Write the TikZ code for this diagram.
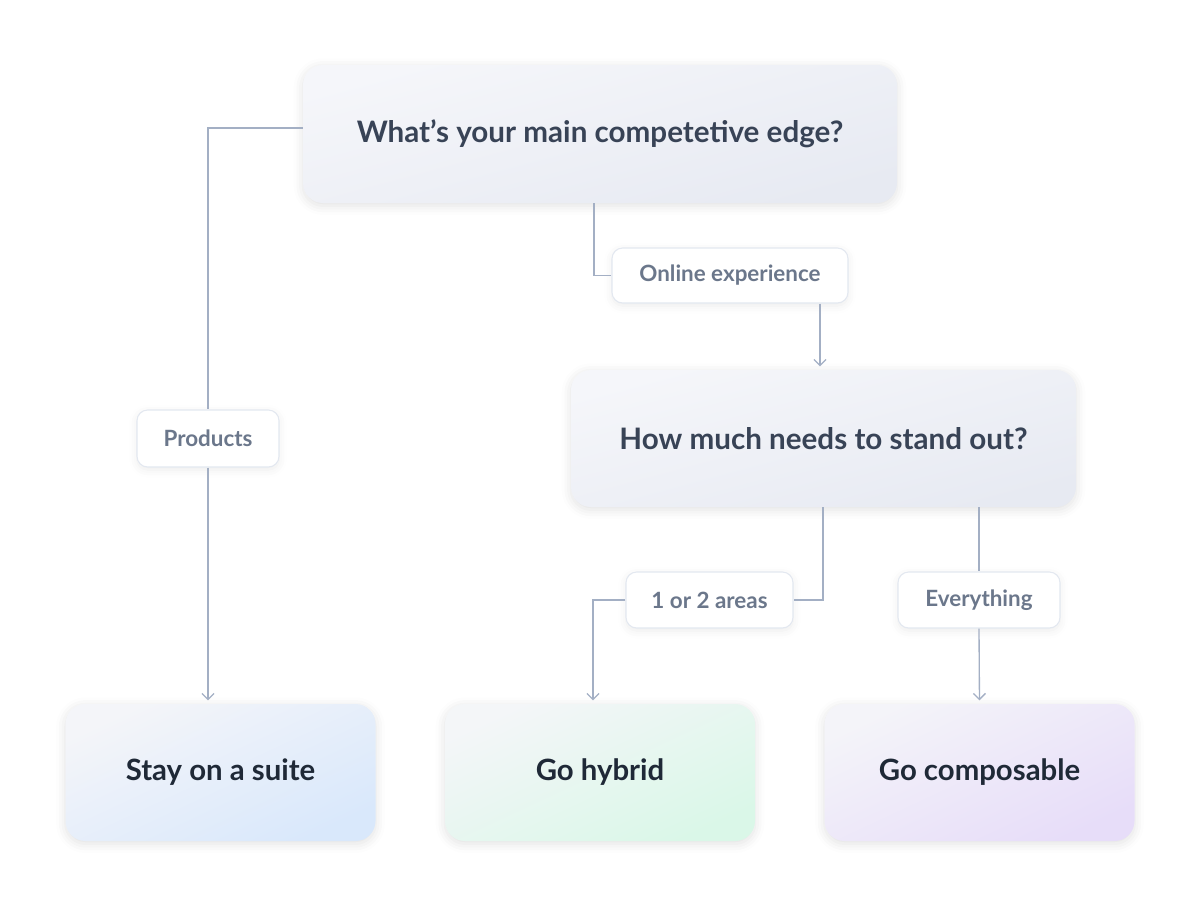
\documentclass[tikz,border=0pt]{standalone}
\usepackage{fontspec}
\setmainfont{Lato}
\usetikzlibrary{arrows.meta,shadows.blur}
\definecolor{linec}{HTML}{A3AFC4}
\definecolor{headc}{HTML}{384356}
\definecolor{darkc}{HTML}{1F2937}
\definecolor{labc}{HTML}{6B778B}
\definecolor{labborder}{HTML}{E3E8F0}
\definecolor{topa}{HTML}{F5F6FA}
\definecolor{topb}{HTML}{E7EAF2}
\definecolor{bluea}{HTML}{F4F5F9}
\definecolor{blueb}{HTML}{D9E8FB}
\definecolor{greena}{HTML}{F4F6F8}
\definecolor{greenb}{HTML}{DAF7E8}
\definecolor{purpa}{HTML}{F4F4F9}
\definecolor{purpb}{HTML}{E7DDF9}
\tikzset{
  qbox/.style={rounded corners=15pt, draw=none, text=headc,
    font=\fontsize{22.2}{26}\selectfont\bfseries,
    top color=topa, bottom color=topb, shading angle=15,
    blur shadow={shadow xshift=0pt, shadow yshift=-2pt, shadow blur radius=7pt, shadow opacity=12}},
  endbox/.style={rounded corners=15pt, draw=none, text=darkc,
    minimum width=232.5pt, minimum height=102.75pt,
    font=\fontsize{22}{26}\selectfont\bfseries,
    blur shadow={shadow xshift=0pt, shadow yshift=-2pt, shadow blur radius=7pt, shadow opacity=12}},
  lab/.style={rounded corners=8pt, draw=labborder, line width=0.8pt, fill=white, text=labc,
    font=\fontsize{16.8}{20}\selectfont\bfseries,
    blur shadow={shadow xshift=0pt, shadow yshift=-2pt, shadow blur radius=6pt, shadow opacity=8}},
  conn/.style={draw=linec, line width=1pt},
  arr/.style={conn, -{Straight Barb[length=4.5pt,width=9pt,line width=1pt]}, shorten >=2.5pt},
}
\begin{document}
\begin{tikzpicture}[x=0.75pt,y=-0.75pt]
\useasboundingbox (0,0) rectangle (1200,907);
% main nodes
\node[qbox, minimum width=445.5pt, minimum height=103.5pt] (top) at (600,134) {What’s your main competetive edge?};
\node[qbox, minimum width=378.75pt, minimum height=102.75pt] (mid) at (823.5,438.5) {How much needs to stand out?};
\node[endbox, top color=bluea, bottom color=blueb, shading angle=25] (stay) at (220.5,772.5) {Stay on a suite};
\node[endbox, top color=greena, bottom color=greenb, shading angle=25] (hyb) at (600,772.5) {Go hybrid};
\node[endbox, top color=purpa, bottom color=purpb, shading angle=25] (comp) at (979.5,772.5) {Go composable};
% labels
\node[lab, minimum width=177pt, minimum height=41.25pt] (online) at (730,275.5) {Online experience};
\node[lab, minimum width=106.5pt, minimum height=42.75pt] (prod) at (208,438.5) {Products};
\node[lab, minimum width=125.25pt, minimum height=42pt] (one) at (709.5,600) {1 or 2 areas};
\node[lab, minimum width=121.5pt, minimum height=42pt] (ev) at (979,600) {Everything};
% helper coordinates
\coordinate (x594) at (594,0);
\coordinate (x820) at (820,0);
\coordinate (x823) at (823,0);
\coordinate (x593) at (593,0);
\coordinate (y128) at (0,128);
% connectors
\draw[conn] (top.west |- y128) -| (prod.north);
\draw[arr] (prod.south) -- (prod.south |- stay.north);
\draw[conn] (top.south -| x594) |- (online.west);
\draw[arr] (online.south -| x820) -- (mid.north -| x820);
\draw[conn] (mid.south -| x823) |- (one.east);
\draw[arr] (one.west) -| (hyb.north -| x593);
\draw[conn] (mid.south -| ev.north) -- (ev.north);
\draw[arr] (ev.south) -- (comp.north);
\end{tikzpicture}
\end{document}
